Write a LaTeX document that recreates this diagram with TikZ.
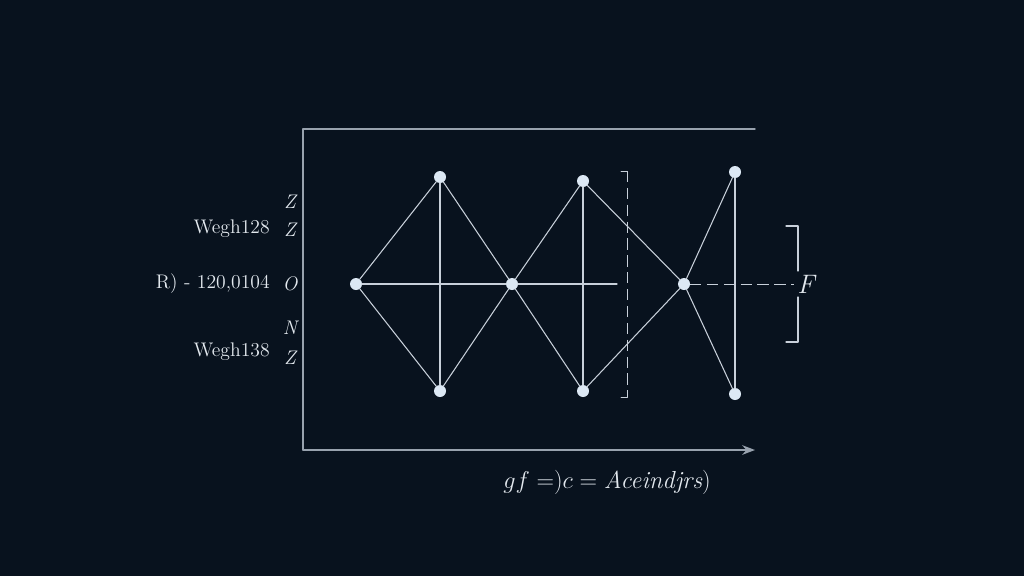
\documentclass[tikz,border=0pt]{standalone}
\usepackage{tikz}
\usetikzlibrary{arrows.meta,calc,positioning}
\usepackage{xcolor}
\usepackage{amsmath,amssymb}
\definecolor{bgnavy}{HTML}{08121E}
\definecolor{inkline}{HTML}{C8D0DA}
\definecolor{inkaxis}{HTML}{98A2AE}
\definecolor{inkdot}{HTML}{DCE8F4}
\definecolor{inktext}{HTML}{E2E8EE}

\begin{document}
\begin{tikzpicture}[
  x=0.25mm, y=-0.25mm,
  >=Stealth,
  line cap=round,
  line join=round,
  every node/.style={text=inktext},
  dot/.style={circle, fill=inkdot, draw=none, minimum size=3mm, inner sep=0pt, outer sep=0pt},
  edge/.style={draw=inkline, line width=0.75pt},
  axis/.style={draw=inkaxis, line width=1pt},
  dline/.style={draw=inkline, line width=0.7pt, dash pattern=on 8pt off 4pt, line cap=butt},
  lbl/.style={anchor=east, inner sep=0pt, font=\fontsize{14}{16}\selectfont},
  ax/.style={inner sep=0pt, font=\fontsize{14}{16}\selectfont\itshape}
]
  % background and picture frame
  \fill[bgnavy] (0,0) rectangle (1024,576);
  \useasboundingbox (0,0) rectangle (1024,576);

  % axes
  \coordinate (axTop) at (303,129);
  \coordinate (axTopEnd) at (755,129);
  \coordinate (axOrigin) at (303,450);
  \coordinate (axEnd) at (755,450);
  \draw[axis] (axTopEnd) -- (axTop) -- (axOrigin);
  \draw[axis, -{Stealth[length=3.2mm, width=2.4mm]}] (axOrigin) -- (axEnd);

  % vertices
  \node[dot] (left) at (356,284) {};
  \node[dot] (top1) at (440,177) {};
  \node[dot] (bot1) at (440,391) {};
  \node[dot] (mid) at (512,284) {};
  \node[dot] (top2) at (583,181) {};
  \node[dot] (bot2) at (583,391) {};
  \node[dot] (right) at (684,284) {};
  \node[dot] (top3) at (735,172) {};
  \node[dot] (bot3) at (735,394) {};

  \coordinate (hEnd) at (617,284);
  \coordinate (fEnd) at (794,284);
  \node[ax, font=\fontsize{19}{22}\selectfont\itshape] (fLbl) at (806,284) {F};

  % edges
  \draw[edge] (left) -- (top1);
  \draw[edge] (left) -- (bot1);
  \draw[edge] (top1) -- (bot1);
  \draw[edge] (top1) -- (mid);
  \draw[edge] (bot1) -- (mid);
  \draw[edge] (left) -- (mid);
  \draw[edge] (mid) -- (hEnd);
  \draw[edge] (mid) -- (top2);
  \draw[edge] (mid) -- (bot2);
  \draw[edge] (top2) -- (bot2);
  \draw[edge] (top2) -- (right);
  \draw[edge] (bot2) -- (right);
  \draw[edge] (right) -- (top3);
  \draw[edge] (right) -- (bot3);
  \draw[edge] (top3) -- (bot3);
  \draw[dline] (right) -- (fEnd);

  % dashed bracket between the two halves
  \draw[dline] (627,171) -- (627,397);
  \draw[edge, line width=0.7pt] (621,171) -- (627,171) -- (627,176);
  \draw[edge, line width=0.7pt] (621,397) -- (627,397) -- (627,392);

  % bracket round F
  \draw[edge, line width=0.8pt] (786,226) -- (798,226) -- (798,271);
  \draw[edge, line width=0.8pt] (798,297) -- (798,342) -- (786,342);

  % left labels
  \node[ax] (zA) at (290,202) {Z};
  \node[ax] (zB) at (290,230) {Z};
  \node[ax] (oC) at (290,284) {O};
  \node[ax] (nD) at (290,328) {N};
  \node[ax] (zE) at (290,358) {Z};
  \node[lbl] (w1) at (270,229) {Wegh128};
  \node[lbl] (r0) at (270,284) {R) - 120,0104};
  \node[lbl] (w2) at (270,352) {Wegh138};

  % formula
  \node[font=\fontsize{17.5}{20}\selectfont] (eqn) at (607,482) {$gf = )c = \textit{Aceindjrs})$};
\end{tikzpicture}
\end{document}
